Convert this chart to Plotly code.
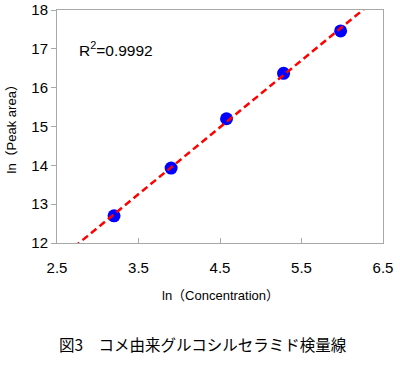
import numpy as np
import plotly.graph_objects as go

# Data
ln_conc = [3.20, 3.90, 4.58, 5.28, 5.98]
ln_area = [12.70, 13.93, 15.20, 16.37, 17.46]
r2_text = "R<sup>2</sup>=0.9992"
x_ticks = [2.5, 3.5, 4.5, 5.5, 6.5]
y_ticks = [12, 13, 14, 15, 16, 17, 18]
x_title = "ln（Concentration）"
y_title = "ln（Peak area）"
caption = "図3　コメ由来グルコシルセラミド検量線"

# Linear trendline fitted to the points
slope, intercept = np.polyfit(ln_conc, ln_area, 1)
trend_x = [2.5, 6.5]
trend_y = [slope * v + intercept for v in trend_x]

AX_GRAY = "#A8A8A8"

fig = go.Figure()
fig.add_trace(go.Scatter(
    x=ln_conc, y=ln_area, mode="markers",
    marker=dict(color="#0000FF", size=13, line=dict(width=0)),
    showlegend=False,
))
fig.add_trace(go.Scatter(
    x=trend_x, y=trend_y, mode="lines",
    line=dict(color="#FF0000", width=2.5, dash="7px,4px"),
    showlegend=False, hoverinfo="skip",
))
# invisible carrier trace so the inside-tick overlay axis is drawn
fig.add_trace(go.Scatter(
    x=ln_conc, y=ln_area, xaxis="x2", mode="markers",
    marker=dict(opacity=0), showlegend=False, hoverinfo="skip",
))

axis_common = dict(
    showgrid=False, zeroline=False, showline=True, linecolor=AX_GRAY,
    linewidth=1, mirror=True, tickwidth=1, automargin=False,
    tickfont=dict(family="Liberation Sans, Arial", size=15, color="#000000"),
)

title_font = dict(family="Liberation Sans, Noto Sans CJK JP", size=13, color="#000")

fig.update_layout(
    width=400, height=368,
    margin=dict(l=57, r=17, t=10, b=125),
    paper_bgcolor="white", plot_bgcolor="white",
    xaxis=dict(range=[2.5, 6.5], tickvals=x_ticks, ticktext=[str(v) for v in x_ticks],
               ticks="outside", ticklen=11, tickcolor="rgba(0,0,0,0)", **axis_common),
    xaxis2=dict(range=[2.5, 6.5], overlaying="x", side="bottom", tickvals=x_ticks,
                ticks="inside", ticklen=5, tickcolor=AX_GRAY, tickwidth=1,
                showticklabels=False, showline=False, showgrid=False, zeroline=False,
                automargin=False),
    yaxis=dict(range=[12, 18], tickvals=y_ticks, ticks="outside", ticklen=5,
               tickcolor=AX_GRAY, **axis_common),
    annotations=[
        dict(x=2.74, y=17.0, xref="x", yref="y", text=r2_text, showarrow=False,
             xanchor="left", yanchor="middle",
             font=dict(family="Liberation Sans, Arial", size=15.5, color="#000")),
        dict(x=0.5, y=(243 - 295) / 233, xref="paper", yref="paper", text=x_title,
             showarrow=False, xanchor="center", yanchor="middle", font=title_font),
        dict(x=(11 - 57) / 326, y=0.5, xref="paper", yref="paper", text=y_title,
             showarrow=False, xanchor="center", yanchor="middle", textangle=-90,
             font=title_font),
        dict(x=(203 - 57) / 326, y=(243 - 344) / 233, xref="paper", yref="paper",
             text=caption, showarrow=False, xanchor="center", yanchor="middle",
             font=dict(family="Noto Sans CJK JP", size=15.5, color="#000")),
    ],
)

fig.write_html("out.html", config={"displayModeBar": False},
               post_script="document.body.style.margin='0';")
